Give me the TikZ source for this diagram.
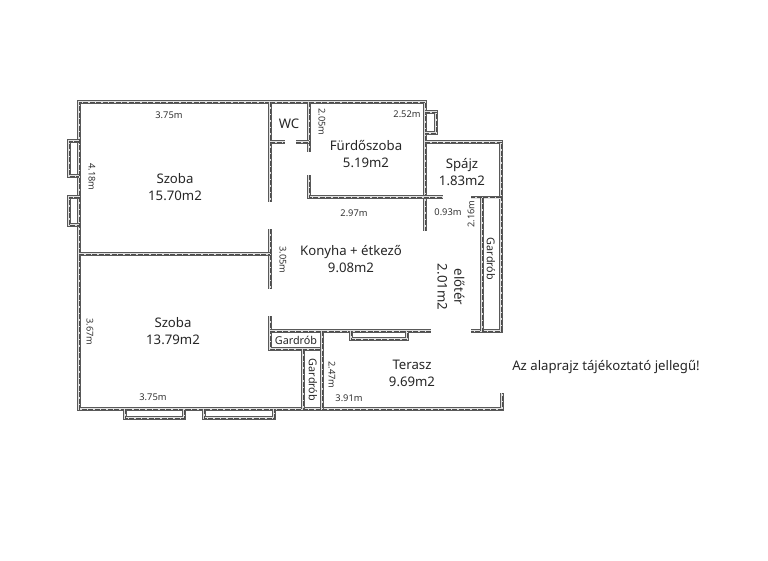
\documentclass[tikz,border=0pt]{standalone}
\usepackage{fontspec}
\setmainfont{Noto Sans}
\tikzset{
	wall/.style={draw=black!65, line width=3.6pt, line join=miter,
		postaction={draw=black!12, line width=2pt},
		postaction={draw=black!70, line width=0.9pt, dash pattern=on 5pt off 1.5pt}},
	roomlabel/.style={align=center, text=black!85, font=\fontsize{13.2}{16.8}\selectfont, inner sep=0pt},
	sidelabel/.style={roomlabel, font=\fontsize{10.8}{12}\selectfont},
	sizelabel/.style={text=black!80, font=\fontsize{9.3}{10}\selectfont, inner sep=0pt},
}
\begin{document}
\begin{tikzpicture}[x=1pt,y=-1pt]
	\useasboundingbox (0,0) rectangle (768,560);

% outer walls
\draw[wall] (270,102) -- (79,102) -- (79,409) -- (322,409);
\draw[wall] (270,102) -- (425,102) -- (425,231);
\draw[wall] (322,409) -- (502,409) -- (502,393);
\draw[wall] (425,142) -- (501,142) -- (501,331) -- (471,331);

% inner walls
\draw[wall] (270,102) -- (270,202);
\draw[wall] (270,229) -- (270,289);
\draw[wall] (79,254) -- (270,254);
\draw[wall] (309,102) -- (309,152);
\draw[wall] (309,175) -- (309,197) -- (443,197);
\draw[wall] (270,142) -- (285,142);
\draw[wall] (296,142) -- (309,142);
\draw[wall] (501,197.5) -- (471,197.5);
\draw[wall] (482,197.5) -- (482,331);
\draw[wall] (270,316) -- (270,349) -- (322,349);
\draw[wall] (270,331) -- (431,331);
\draw[wall] (322,331) -- (322,409);
\draw[wall] (303,349) -- (303,409);

% windows
\draw[wall] (79,141) -- (69,141) -- (69,176) -- (79,176);
\draw[wall] (79,197) -- (69,197) -- (69,225) -- (79,225);
\draw[wall] (425,112) -- (436,112) -- (436,133) -- (425,133);
\draw[wall] (125,409) -- (125,418) -- (184,418) -- (184,409);
\draw[wall] (204,409) -- (204,418) -- (274,418) -- (274,409);
\draw[wall] (351,331) -- (351,339) -- (407,339) -- (407,331);

% rooms
\node[roomlabel] (szobaa) at (175,187) {Szoba\\15.70m2};
\node[roomlabel] (wc) at (289,124) {WC};
\node[roomlabel] (furdo) at (366,154) {Fürdőszoba\\5.19m2};
\node[roomlabel] (spajz) at (462,172) {Spájz\\1.83m2};
\node[roomlabel] (konyha) at (351,259) {Konyha + étkező\\9.08m2};
\node[roomlabel] (szobab) at (173,331) {Szoba\\13.79m2};
\node[roomlabel] (terasz) at (412,373) {Terasz\\9.69m2};
\node[roomlabel, rotate=-90] (eloter) at (451,287) {előtér\\2.01m2};
\node[sidelabel] (gardroba) at (296,340) {Gardrób};
\node[sidelabel, rotate=-90] (gardrobb) at (313,380) {Gardrób};
\node[sidelabel, rotate=-90] (gardrobc) at (491,259) {Gardrób};
\node[roomlabel] (megjegyzes) at (606,367) {Az alaprajz tájékoztató jellegű!};

% sizes
\node[sizelabel] (ma) at (169,115) {3.75m};
\node[sizelabel, rotate=-90] (mb) at (92,177) {4.18m};
\node[sizelabel, rotate=-90] (mc) at (322,122) {2.05m};
\node[sizelabel] (md) at (407,114) {2.52m};
\node[sizelabel] (me) at (354,213) {2.97m};
\node[sizelabel] (mf) at (448,212) {0.93m};
\node[sizelabel, rotate=90] (mg) at (471,214) {2.16m};
\node[sizelabel, rotate=-90] (mh) at (283,260) {3.05m};
\node[sizelabel, rotate=-90] (mi) at (90,332) {3.67m};
\node[sizelabel] (mj) at (153,397) {3.75m};
\node[sizelabel, rotate=-90] (mk) at (332,375) {2.47m};
\node[sizelabel] (ml) at (349,398) {3.91m};

\end{tikzpicture}
\end{document}
